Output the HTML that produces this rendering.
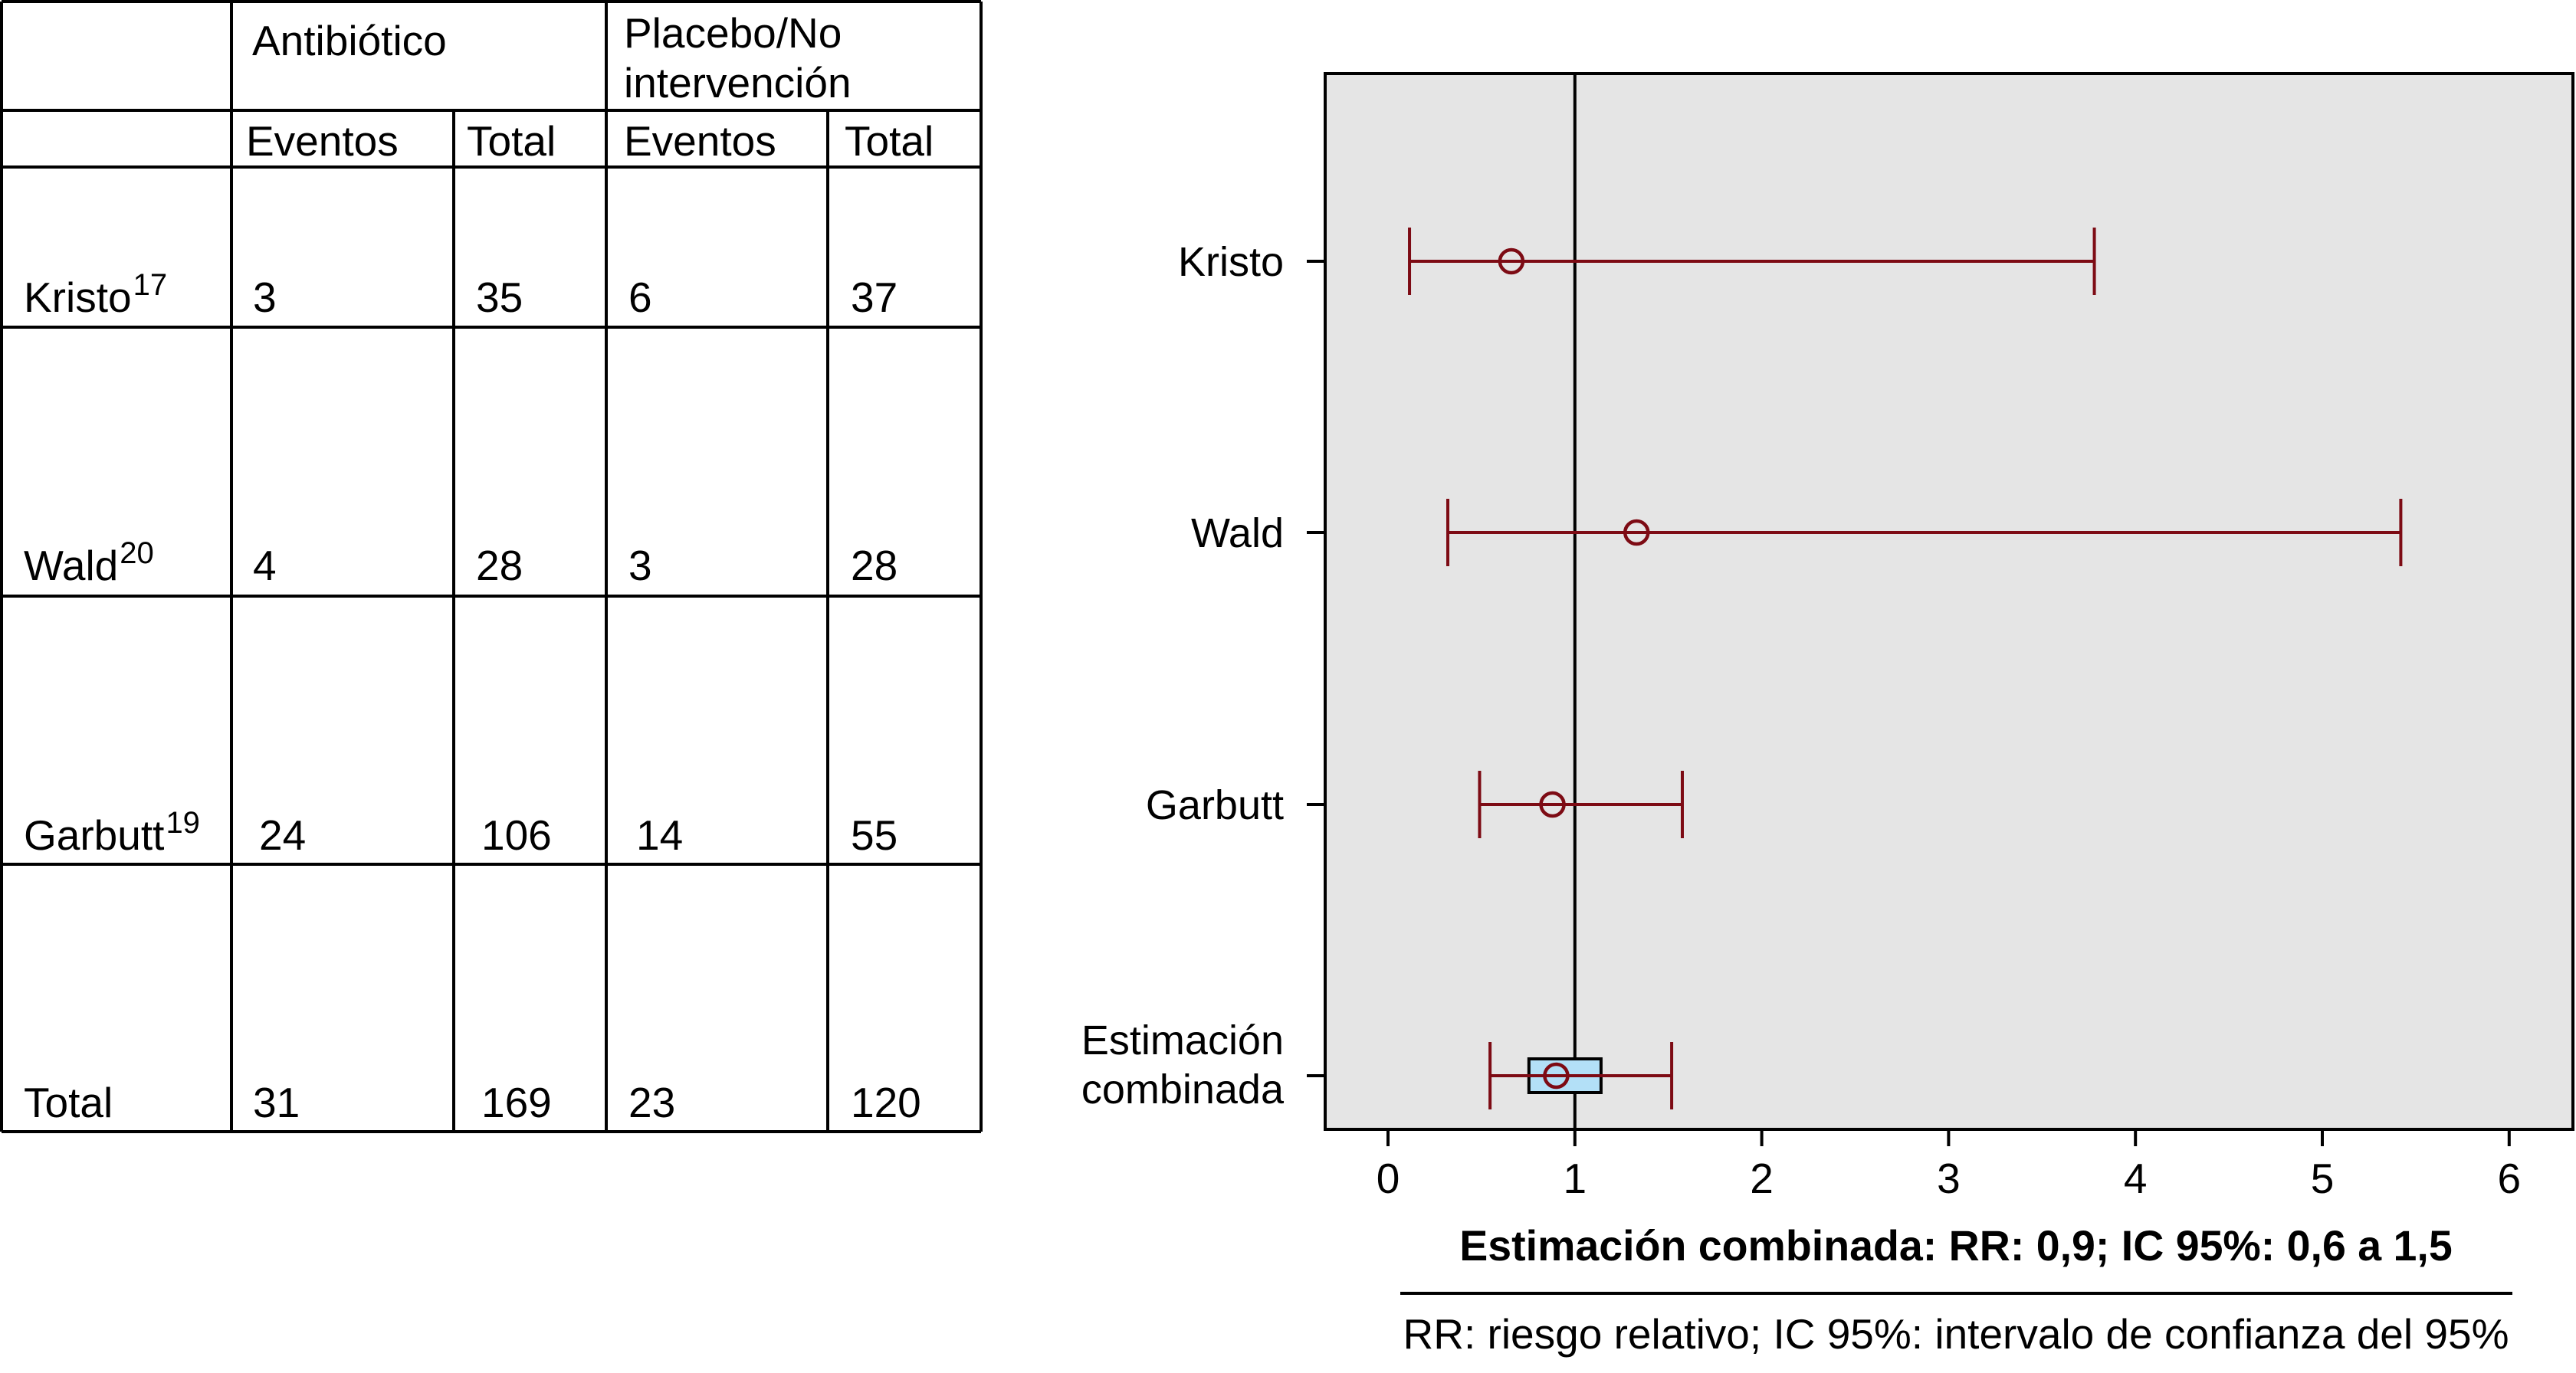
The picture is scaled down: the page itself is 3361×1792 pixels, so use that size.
<!DOCTYPE html>
<html><head><meta charset="utf-8"><style>
html,body{margin:0;padding:0;background:#fff;}
svg{display:block;font-family:"Liberation Sans",sans-serif;}
</style></head><body>
<svg id="fig" width="3361" height="1792" viewBox="0 0 3361 1792" xmlns="http://www.w3.org/2000/svg">
<g id="table"></g>
<g id="chart"></g>
</svg>
<script>
// ---- table data ----
const studyNames = ["Kristo", "Wald", "Garbutt", "Total"];
const studySups = ["17", "20", "19", ""];
const abxEvents = ["3", "4", "24", "31"];
const abxTotal = ["35", "28", "106", "169"];
const plcEvents = ["6", "3", "14", "23"];
const plcTotal = ["37", "28", "55", "120"];

// ---- chart data ----
const categories = ["Kristo", "Wald", "Garbutt", "Estimación combinada"];
const rrValues = [0.66, 1.33, 0.88, 0.90];
const ciLow = [0.115, 0.32, 0.49, 0.546];
const ciHigh = [3.78, 5.42, 1.575, 1.518];
const pooledBoxLow = [0.754];
const pooledBoxHigh = [1.14];
const xTicks = [0, 1, 2, 3, 4, 5, 6];

const NS = "http://www.w3.org/2000/svg";
function mk(parent, tag, attrs, text) {
  const e = document.createElementNS(NS, tag);
  for (const k in attrs) e.setAttribute(k, attrs[k]);
  if (text !== undefined) e.textContent = text;
  parent.appendChild(e);
  return e;
}

// ---- table ----
const T = document.getElementById('table');
const lineStyle = {stroke: "#000", "stroke-width": 4};
[2, 144, 218, 427, 778, 1128, 1477].forEach(y => {
  const l = mk(T, 'line', Object.assign({x1: 2, x2: 1280, y1: y, y2: y}, lineStyle));
  
  
});
[[2, 2, 1477], [302, 2, 1477], [791, 2, 1477], [1280, 2, 1477], [592, 144, 1477], [1080, 144, 1477]].forEach(v => {
  const l = mk(T, 'line', Object.assign({x1: v[0], x2: v[0], y1: v[1], y2: v[2]}, lineStyle));
  
  
});
const fs = 55;
function tt(x, y, s, name) {
  const t = mk(T, 'text', {x: x, y: y, "font-size": fs, fill: "#000"}, s);
  
  
  return t;
}
tt(329, 72, "Antibiótico", "header-antibiotico");
tt(814, 62, "Placebo/No", "header-placebo-line1");
tt(814, 127, "intervención", "header-placebo-line2");
tt(321, 203, "Eventos", "header-abx-eventos");
tt(609, 203, "Total", "header-abx-total");
tt(814, 203, "Eventos", "header-plc-eventos");
tt(1102, 203, "Total", "header-plc-total");
const baselines = [407, 757, 1109, 1458];
for (let i = 0; i < studyNames.length; i++) {
  const y = baselines[i];
  const t = tt(31, y, studyNames[i], "study-name");
  if (studySups[i]) {
    const s = mk(t, 'tspan', {"font-size": 40, dy: -22, dx: 2}, studySups[i]);
    
    
  }
  const off = abxEvents[i].length > 1 ? 338 : 330;
  tt(i === 3 ? 330 : off, y, abxEvents[i], "abx-events-value");
  tt(abxTotal[i].length > 2 ? 628 : 621, y, abxTotal[i], "abx-total-value");
  tt(plcEvents[i] === "14" ? 830 : 820, y, plcEvents[i], "placebo-events-value");
  tt(1110, y, plcTotal[i], "placebo-total-value");
}

// ---- chart ----
const C = document.getElementById('chart');
const PL = 1729, PR = 3357, PT = 96, PB = 1474;
const X0 = 1811, XU = 243.8;
const xs = v => X0 + v * XU;
const rowY = [341, 695, 1050, 1404];
const ys = i => rowY[i];
const red = "#7d0b14";

const bg = mk(C, 'rect', {x: PL, y: PT, width: PR - PL, height: PB - PT, fill: "#e5e5e5"});



const ref = mk(C, 'line', {x1: xs(1), x2: xs(1), y1: PT, y2: PB, stroke: "#000", "stroke-width": 4});



const box = mk(C, 'rect', {x: xs(pooledBoxLow[0]), y: ys(3) - 22, width: xs(pooledBoxHigh[0]) - xs(pooledBoxLow[0]), height: 44, fill: "#b3e0f7", stroke: "#000", "stroke-width": 4});



for (let i = 0; i < categories.length; i++) {
  const y = ys(i);
  const g = mk(C, 'g', {});
  
  
  const ln = mk(g, 'line', {x1: xs(ciLow[i]), x2: xs(ciHigh[i]), y1: y, y2: y, stroke: red, "stroke-width": 4});
  
  
  [ciLow[i], ciHigh[i]].forEach(v => {
    const c = mk(g, 'line', {x1: xs(v), x2: xs(v), y1: y - 44, y2: y + 44, stroke: red, "stroke-width": 4});
    
    
  });
  const pt = mk(g, 'circle', {cx: xs(rrValues[i]), cy: y, r: 15, fill: "none", stroke: red, "stroke-width": 4.5});
  
  
  const tk = mk(C, 'line', {x1: PL - 24, x2: PL, y1: y, y2: y, stroke: "#000", "stroke-width": 4});
  
  
  if (i < 3) {
    const lb = mk(C, 'text', {x: 1675, y: y + 19, "font-size": 54, "text-anchor": "end"}, categories[i]);
    
    
  } else {
    const lb = mk(C, 'text', {x: 1675, y: y - 28, "font-size": 54, "text-anchor": "end"});
    
    
    const parts = categories[i].split(" ");
    const a = mk(lb, 'tspan', {x: 1675}, parts[0]);
    
    
    const b = mk(lb, 'tspan', {x: 1675, dy: 64}, parts[1]);
    
    
  }
}

const frame = mk(C, 'rect', {x: PL, y: PT, width: PR - PL, height: PB - PT, fill: "none", stroke: "#000", "stroke-width": 4});



xTicks.forEach(v => {
  const tk = mk(C, 'line', {x1: xs(v), x2: xs(v), y1: PB, y2: PB + 22, stroke: "#000", "stroke-width": 4});
  
  
  const lb = mk(C, 'text', {x: xs(v), y: 1557, "font-size": 55, "text-anchor": "middle"}, String(v));
  
  
});

const title = mk(C, 'text', {x: 2552, y: 1645, "font-size": 55.5, "font-weight": "bold", "text-anchor": "middle"}, "Estimación combinada: RR: 0,9; IC 95%: 0,6 a 1,5");


const sep = mk(C, 'line', {x1: 1827, x2: 3278, y1: 1688, y2: 1688, stroke: "#000", "stroke-width": 4});


const foot = mk(C, 'text', {x: 2552, y: 1760, "font-size": 55, "text-anchor": "middle"}, "RR: riesgo relativo; IC 95%: intervalo de confianza del 95%");


</script>
</body></html>
